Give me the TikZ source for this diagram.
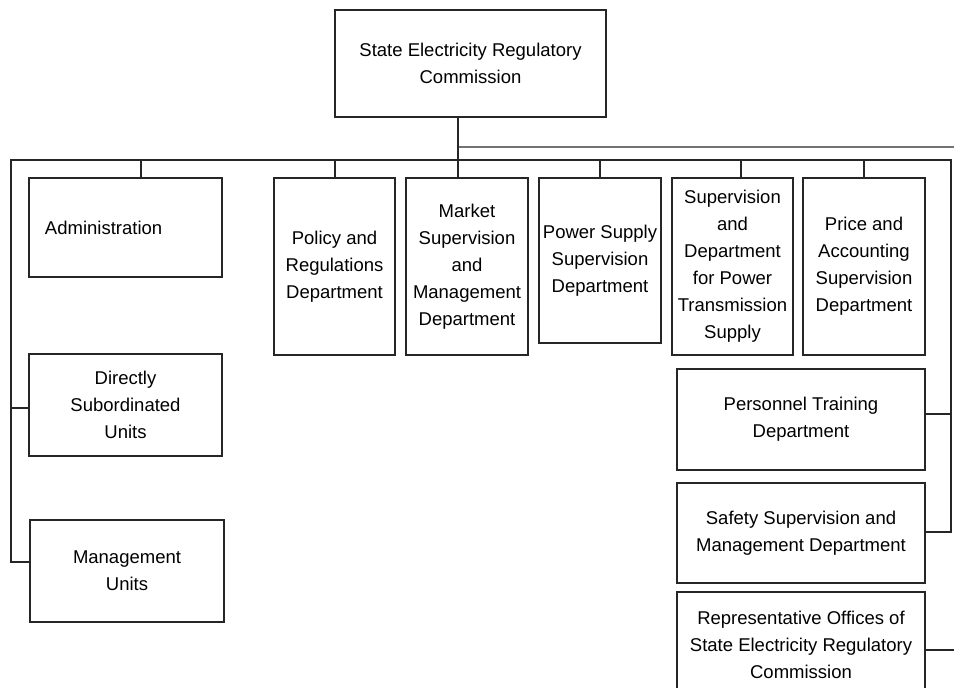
\documentclass[tikz,border=0pt]{standalone}
\usepackage{fontspec}
\setmainfont{Liberation Sans}
\begin{document}
\begin{tikzpicture}[x=1pt,y=-1pt,
  box/.style={draw=black!85, line width=1.5pt, inner sep=0pt, align=center,
    font=\fontsize{18.5}{27}\selectfont},
  link/.style={draw=black!85, line width=1.5pt},
  gline/.style={draw=black!55, line width=2pt},
]
\useasboundingbox (0,0) rectangle (954,688);
\clip (0,0) rectangle (954,688);

% boxes
\node[box, minimum width=271pt, minimum height=107pt] (top) at (470.5,63.5)
  {State Electricity Regulatory\\Commission};
\node[box, minimum width=193pt, minimum height=99pt, text width=161pt, inner xsep=16pt, align=left] (admin) at (125.5,227.5)
  {Administration};
\node[box, minimum width=193pt, minimum height=102pt] (direct) at (125.5,405)
  {Directly\\Subordinated\\Units};
\node[box, minimum width=194pt, minimum height=102pt] (mgmt) at (127,571)
  {Management\\Units};
\node[box, minimum width=121pt, minimum height=177pt] (policy) at (334.5,266.5)
  {Policy and\\Regulations\\Department};
\node[box, minimum width=122pt, minimum height=177pt] (market) at (467,266.5)
  {Market\\Supervision\\and\\Management\\Department};
\node[box, minimum width=122pt, minimum height=165pt] (power) at (600,260.5)
  {Power Supply\\Supervision\\Department};
\node[box, minimum width=121pt, minimum height=177pt] (trans) at (732.5,266.5)
  {Supervision\\and\\Department\\for Power\\Transmission\\Supply};
\node[box, minimum width=122pt, minimum height=177pt] (price) at (864,266.5)
  {Price and\\Accounting\\Supervision\\Department};
\node[box, minimum width=248pt, minimum height=101pt] (personnel) at (801,419.5)
  {Personnel Training\\Department};
\node[box, minimum width=248pt, minimum height=100pt] (safety) at (801,533)
  {Safety Supervision and\\Management Department};
\node[box, minimum width=248pt, minimum height=105pt] (rep) at (801,644.5)
  {Representative Offices of\\State Electricity Regulatory\\Commission};

% connector coordinates
\coordinate (hub) at (458,160);
\coordinate (busL) at (11,160);
\coordinate (busR) at (951,160);
\coordinate (lm) at (11,562);
\coordinate (ld) at (11,408);
\coordinate (rs) at (951,532);
\coordinate (rp) at (951,414);
\coordinate (ja) at (141,160);
\coordinate (jp) at (335,160);
\coordinate (jw) at (600,160);
\coordinate (jt) at (741,160);
\coordinate (jc) at (864,160);
\coordinate (g0) at (458,147);
\coordinate (gR) at (965,147);
\coordinate (rr) at (965,650);

% connectors
\draw[gline] (g0) -- (gR);
\draw[link] (top.south -| hub) -- (hub);
\draw[link] (lm -| mgmt.west) -- (lm) -- (busL) -- (busR) -- (rs) -- (rs -| safety.east);
\draw[link] (ld) -- (ld -| direct.west);
\draw[link] (rp) -- (rp -| personnel.east);
\draw[link] (hub) -- (hub |- market.north);
\foreach \c/\n in {ja/admin, jp/policy, jw/power, jt/trans, jc/price}
  \draw[link] (\c) -- (\c |- \n.north);
\draw[link] (rr -| rep.east) -- (rr);
\end{tikzpicture}
\end{document}
